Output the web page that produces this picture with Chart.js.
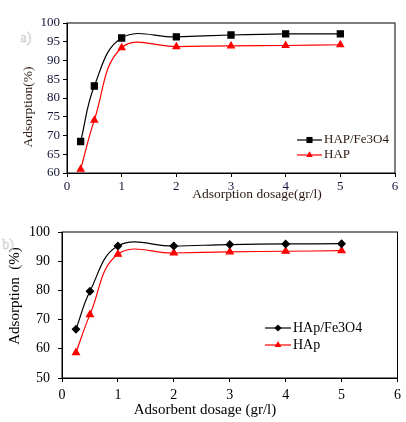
<!DOCTYPE html>
<html>
<head>
<meta charset="UTF-8">
<title>Adsorption vs dosage</title>
<script src="https://cdn.jsdelivr.net/npm/chart.js"></script>
<style>
  body { margin: 0; background: #fff; }
  .box { position: absolute; left: 0; width: 406px; height: 211px; }
</style>
</head>
<body>
<div class="box" style="top:0"><canvas id="chartA"></canvas></div>
<div class="box" style="top:211px"><canvas id="chartB"></canvas></div>

<script>
// dosage (gr/l), same for every series
const dosage = [0.25, 0.5, 1, 2, 3, 4, 5];

// panel a)
const hapFe3o4A = [68.4, 83.2, 96.0, 96.3, 96.8, 97.1, 97.1];
const hapA      = [61.0, 74.1, 93.4, 93.7, 93.9, 94.0, 94.2];

// panel b)
const hapFe3o4B = [66.7, 79.7, 95.2, 95.2, 95.7, 95.9, 96.0];
const hapB      = [58.7, 71.7, 92.4, 92.8, 93.2, 93.4, 93.6];

const xRange  = [0, 6];
const yRangeA = [60, 100];
const yRangeB = [50, 100];

const SERIF = "'Liberation Serif', 'Times New Roman', serif";

function toPoints(ys) {
  return dosage.map((x, i) => ({ x: x, y: ys[i] }));
}

// small marker, same shapes as the chart points
function marker(ctx, style, x, y, r, color) {
  ctx.fillStyle = color;
  ctx.beginPath();
  if (style === 'rect') {
    const s = r * Math.SQRT1_2;
    ctx.rect(x - s, y - s, 2 * s, 2 * s);
  } else if (style === 'rectRot') {
    ctx.moveTo(x, y - r); ctx.lineTo(x + r, y); ctx.lineTo(x, y + r); ctx.lineTo(x - r, y);
  } else {
    const h = r * 0.866;
    ctx.moveTo(x, y - r); ctx.lineTo(x + h, y + r / 2); ctx.lineTo(x - h, y + r / 2);
  }
  ctx.closePath();
  ctx.fill();
}

// frame box, axis titles, panel letter and the legend inside the plot
const framePlugin = {
  id: 'frame',
  afterDraw(chart, args, o) {
    const ctx = chart.ctx, a = chart.chartArea;
    ctx.save();
    ctx.strokeStyle = '#000';
    ctx.lineWidth = 1;
    ctx.strokeRect(a.left, a.top, a.right - a.left, a.bottom - a.top);

    ctx.fillStyle = o.titleColor;
    ctx.font = o.titleFont;
    ctx.textAlign = 'center';
    ctx.textBaseline = 'middle';
    ctx.fillText(o.xTitle, o.xTitleX, a.bottom + o.xTitleDy);
    ctx.save();
    ctx.translate(o.yTitleX, o.yTitleY);
    ctx.rotate(-Math.PI / 2);
    ctx.fillText(o.yTitle, 0, 0);
    ctx.restore();

    // panel letter (faint outline)
    ctx.font = o.tagFont;
    ctx.strokeStyle = '#cfcfcf';
    ctx.lineWidth = 0.7;
    ctx.strokeText(o.tag, o.tagX, o.tagY);

    // legend
    ctx.font = o.legendFont;
    ctx.textAlign = 'left';
    chart.data.datasets.forEach((ds, i) => {
      const y = o.legendY + i * o.legendGap;
      ctx.strokeStyle = ds.borderColor;
      ctx.lineWidth = 1.2;
      ctx.beginPath();
      ctx.moveTo(o.legendX, y);
      ctx.lineTo(o.legendX + o.legendLen, y);
      ctx.stroke();
      marker(ctx, ds.pointStyle, o.legendX + o.legendLen / 2, y, ds.pointRadius, ds.pointBackgroundColor);
      ctx.fillStyle = o.titleColor;
      ctx.fillText(ds.label, o.legendX + o.legendLen + 2, y);
    });
    ctx.restore();
  }
};

function series(label, ys, color, style, r) {
  return {
    label: label,
    data: toPoints(ys),
    borderColor: color,
    backgroundColor: color,
    pointBackgroundColor: color,
    pointBorderColor: color,
    pointStyle: style,
    pointRadius: r,
    borderWidth: 1.2,
    tension: 0.4,
    fill: false
  };
}

function makeChart(id, cfg) {
  new Chart(document.getElementById(id), {
    type: 'line',
    data: { datasets: cfg.datasets },
    plugins: [framePlugin],
    options: {
      responsive: true,
      maintainAspectRatio: false,
      animation: false,
      layout: { padding: cfg.padding },
      plugins: {
        legend: { display: false },
        tooltip: { enabled: false },
        frame: cfg.frame
      },
      scales: {
        x: {
          type: 'linear',
          min: xRange[0], max: xRange[1],
          grid: { drawOnChartArea: false, drawTicks: true, tickLength: 4, color: '#000' },
          border: { color: '#000' },
          ticks: { stepSize: 1, color: cfg.tickColor, padding: cfg.xPad, font: { family: SERIF, size: cfg.tickSize } },
          afterFit: s => { s.height = cfg.xHeight; }
        },
        y: {
          min: cfg.yRange[0], max: cfg.yRange[1],
          grid: { drawOnChartArea: false, drawTicks: true, tickLength: 4, color: '#000' },
          border: { color: '#000' },
          ticks: { stepSize: cfg.yStep, color: cfg.tickColor, padding: cfg.yPad, font: { family: SERIF, size: cfg.tickSize } },
          afterFit: s => { s.width = cfg.yWidth; }
        }
      }
    }
  });
}

makeChart('chartA', {
  datasets: [
    series('HAP/Fe3O4', hapFe3o4A, '#000000', 'rect', 4.3),
    series('HAP', hapA, '#ff0000', 'triangle', 3.8)
  ],
  yRange: yRangeA, yStep: 5,
  padding: { left: 0, right: 11, top: 23, bottom: 0 },
  yWidth: 67, xHeight: 38,
  tickColor: '#14143a', tickSize: 13, xPad: 2, yPad: 3,
  frame: {
    titleColor: '#2a1810', titleFont: '13.5px ' + SERIF,
    xTitle: 'Adsorption dosage(gr/l)', xTitleX: 257, xTitleDy: 21,
    yTitle: 'Adsorption(%)', yTitleX: 28, yTitleY: 107,
    tag: 'a)', tagFont: '14px ' + SERIF, tagX: 26, tagY: 38,
    legendFont: '13px ' + SERIF, legendX: 297, legendLen: 25, legendY: 140, legendGap: 15
  }
});

makeChart('chartB', {
  datasets: [
    series('HAp/Fe3O4', hapFe3o4B, '#000000', 'rectRot', 3.6),
    series('HAp', hapB, '#ff0000', 'triangle', 4)
  ],
  yRange: yRangeB, yStep: 10,
  padding: { left: 0, right: 7, top: 21, bottom: 0 },
  yWidth: 62, xHeight: 44,
  tickColor: '#000', tickSize: 14, xPad: 5, yPad: 8,
  frame: {
    titleColor: '#000', titleFont: '15px ' + SERIF,
    xTitle: 'Adsorbent dosage (gr/l)', xTitleX: 205, xTitleDy: 32,
    yTitle: 'Adsorption  (%)', yTitleX: 15, yTitleY: 85,
    tag: 'b)', tagFont: '14px ' + SERIF, tagX: 8, tagY: 34,
    legendFont: '14px ' + SERIF, legendX: 265, legendLen: 26, legendY: 117, legendGap: 17
  }
});
</script>
</body>
</html>
